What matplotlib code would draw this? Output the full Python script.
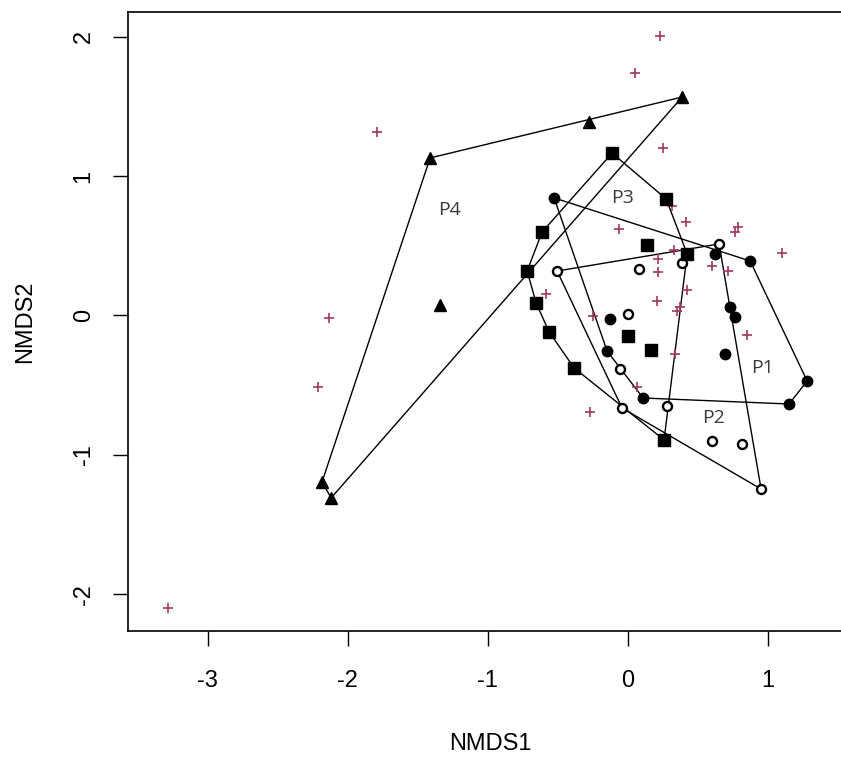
import numpy as np
import matplotlib
matplotlib.use("Agg")
import matplotlib.pyplot as plt

plt.rcParams['font.family'] = ['Liberation Sans', 'DejaVu Sans']
plt.rcParams['axes.unicode_minus'] = False

# Site scores by group (NMDS1, NMDS2)
p1_x = [-0.526, 0.624, 0.874, 0.731, 0.766, 0.695, 1.281, 1.152, 0.109, -0.126, -0.148]
p1_y = [0.843, 0.441, 0.391, 0.061, -0.011, -0.276, -0.470, -0.635, -0.592, -0.025, -0.255]

p2_x = [-0.505, 0.081, 0.388, 0.652, 0.002, -0.055, -0.041, 0.281, 0.602, 0.816, 0.952]
p2_y = [0.319, 0.334, 0.377, 0.513, 0.011, -0.384, -0.664, -0.649, -0.900, -0.922, -1.245]

p3_x = [-0.112, 0.274, 0.424, 0.259, -0.383, -0.562, -0.655, -0.719, -0.612, 0.138, 0.002, 0.166]
p3_y = [1.165, 0.836, 0.441, -0.893, -0.377, -0.118, 0.090, 0.319, 0.599, 0.506, -0.147, -0.247]

p4_x = [0.388, -0.276, -1.412, -1.341, -2.184, -2.119]
p4_y = [1.567, 1.388, 1.130, 0.075, -1.194, -1.309]

# Species scores
sp_x = [0.231, 0.052, 0.252, -1.791, -2.134, -2.212, -3.284, -0.584, 0.316, -0.062,
        0.416, 0.788, 0.766, 1.102, 0.331, 0.216, 0.216, 0.602, 0.716, 0.424,
        0.209, 0.374, 0.352, 0.852, 0.338, 0.066, -0.248, -0.269]
sp_y = [2.005, 1.740, 1.201, 1.316, -0.018, -0.513, -2.098, 0.154, 0.785, 0.621,
        0.671, 0.635, 0.599, 0.448, 0.470, 0.405, 0.312, 0.355, 0.319, 0.183,
        0.104, 0.061, 0.032, -0.140, -0.276, -0.513, -0.004, -0.692]

group_labels = ["P1", "P2", "P3", "P4"]
label_x = [0.963, 0.610, -0.040, -1.270]
label_y = [-0.380, -0.735, 0.845, 0.755]

x_ticks = [-3, -2, -1, 0, 1]
y_ticks = [-2, -1, 0, 1, 2]


def hull(xs, ys):
    pts = sorted(set(zip(xs, ys)))
    def cross(o, a, b):
        return (a[0]-o[0])*(b[1]-o[1]) - (a[1]-o[1])*(b[0]-o[0])
    lower, upper = [], []
    for p in pts:
        while len(lower) >= 2 and cross(lower[-2], lower[-1], p) <= 0:
            lower.pop()
        lower.append(p)
    for p in reversed(pts):
        while len(upper) >= 2 and cross(upper[-2], upper[-1], p) <= 0:
            upper.pop()
        upper.append(p)
    h = lower[:-1] + upper[:-1]
    h.append(h[0])
    return [p[0] for p in h], [p[1] for p in h]


fig = plt.figure(figsize=(8.41, 7.58), dpi=100)
W, H = 841, 758
xlim = (-3.57, 1.60)
ylim = (-2.263, 2.177)
left_px, top_px = 128, 12
wpx = (xlim[1]-xlim[0]) * 140.0
hpx = (ylim[1]-ylim[0]) * 139.4
ax = fig.add_axes([left_px/W, (H-top_px-hpx)/H, wpx/W, hpx/H])
ax.set_xlim(*xlim)
ax.set_ylim(*ylim)

for gx, gy in [(p1_x, p1_y), (p2_x, p2_y), (p3_x, p3_y), (p4_x, p4_y)]:
    hx, hy = hull(gx, gy)
    ax.plot(hx, hy, color='black', lw=1.0, zorder=2)

ax.plot(sp_x, sp_y, linestyle='none', marker='+', color='#a03a58', ms=6.5, mew=1.2, zorder=3)

ax.plot(p1_x, p1_y, linestyle='none', marker='o', color='black', ms=7.5, zorder=4)
ax.plot(p2_x, p2_y, linestyle='none', marker='o', mfc='white', mec='black', ms=6.5, mew=1.7, zorder=4)
ax.plot(p3_x, p3_y, linestyle='none', marker='s', color='black', ms=8.5, zorder=4)
ax.plot(p4_x, p4_y, linestyle='none', marker='^', color='black', ms=8.5, zorder=4)

for t, lx, ly in zip(group_labels, label_x, label_y):
    ax.text(lx, ly, t, fontsize=14, color='#3a3a3a', ha='center', va='center',
            family=['Open Sans', 'DejaVu Sans'], zorder=5)

ax.set_xticks(x_ticks)
ax.set_yticks(y_ticks)
ax.set_xticklabels([str(v) for v in x_ticks])
ax.set_yticklabels([str(v) for v in y_ticks], rotation=90, va='center')
ax.tick_params(axis='both', direction='out', length=11, width=1.0, labelsize=17,
               colors='black')
ax.tick_params(axis='x', pad=17)
ax.tick_params(axis='y', pad=13)
for s in ax.spines.values():
    s.set_linewidth(1.2)

ax.set_xlabel('NMDS1', fontsize=17, labelpad=30)
ax.set_ylabel('NMDS2', fontsize=17, labelpad=26)

fig.savefig('out.png', dpi=100)
